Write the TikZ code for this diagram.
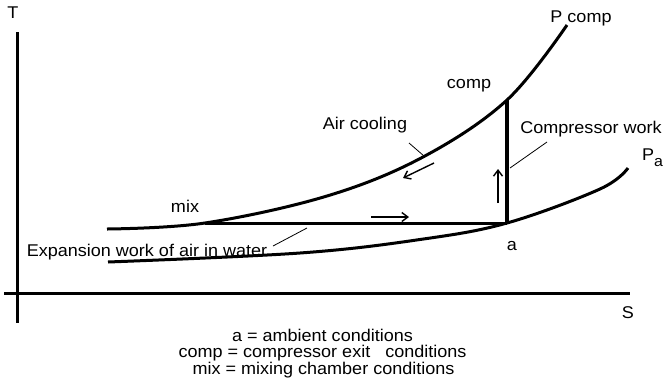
\documentclass[tikz,border=0pt]{standalone}
\usepackage{fontspec}
\setmainfont{Liberation Sans}
\usetikzlibrary{arrows.meta}
\newcommand{\wt}[1]{\scalebox{1.06}[1]{#1}}
\begin{document}
\begin{tikzpicture}[x=1pt,y=-1pt,
  curve/.style={line width=3pt},
  axisline/.style={line width=3pt},
  leader/.style={line width=0.8pt},
  flow/.style={line width=1.4pt,-{Straight Barb[length=6pt,width=9pt]}},
  lbl/.style={font=\fontsize{17}{17}\selectfont, inner sep=0pt, anchor=base}]
\useasboundingbox (0,0) rectangle (672,384);
\fill[white] (0,0) rectangle (672,384);
% axes
\coordinate (ytop) at (17,32);
\coordinate (ybot) at (17,323);
\coordinate (xl) at (4,293);
\coordinate (xr) at (630,293);
\draw[axisline] (ytop) -- (ybot);
\draw[axisline] (xl) -- (xr);
% states
\coordinate (mix) at (205,223);
\coordinate (comp) at (507,100);
\coordinate (a) at (507,223);
% isobars
\draw[curve] plot[smooth, tension=0.6] coordinates {(107,229) (mix) (327,196) (423,157) (comp) (567,25)};
\draw[curve] plot[smooth, tension=0.6] coordinates {(108,262) (300,253) (420,239.5) (a) (600,189) (628,168)};
% process lines
\draw[curve] (mix) -- (a);
\draw[line width=3.3pt] (a) -- (comp);
% flow arrows
\coordinate (h1) at (371,217); \coordinate (h2) at (409,217);
\draw[flow] (h1) -- (h2);
\coordinate (v1) at (498,203); \coordinate (v2) at (498,169);
\draw[flow] (v1) -- (v2);
\coordinate (c1) at (434,163); \coordinate (c2) at (403,178);
\draw[flow] (c1) -- (c2);
% leaders
\coordinate (l1a) at (409,143); \coordinate (l1b) at (424,156);
\draw[leader] (l1a) -- (l1b);
\coordinate (l2a) at (547,142); \coordinate (l2b) at (510,168);
\draw[leader] (l2a) -- (l2b);
\coordinate (l3a) at (273,246); \coordinate (l3b) at (307,228);
\draw[leader] (l3a) -- (l3b);
% labels
\node[lbl] (tlab) at (13,18) {\wt{T}};
\node[lbl] (slab) at (628,318) {\wt{S}};
\node[lbl] (pcomp) at (581,22) {\wt{P comp}};
\node[lbl, anchor=base west] (pa) at (642,160) {\wt{P\raisebox{-6pt}{\fontsize{15}{15}\selectfont a}}};
\node[lbl] (complab) at (469,88) {\wt{comp}};
\node[lbl] (aircool) at (365,129) {\wt{Air cooling}};
\node[lbl] (compwork) at (591,133) {\wt{Compressor work}};
\node[lbl] (mixlab) at (185,212) {\wt{mix}};
\node[lbl] (alab) at (512,250) {\wt{a}};
\node[lbl] (expan) at (147,256) {\wt{Expansion work of air in water}};
\node[lbl] (leg1) at (322.5,341) {\wt{a = ambient conditions}};
\node[lbl] (leg2) at (322.5,357) {\wt{comp = compressor exit\ \ \ conditions}};
\node[lbl] (leg3) at (323.5,374) {\wt{mix = mixing chamber conditions}};
\end{tikzpicture}
\end{document}
